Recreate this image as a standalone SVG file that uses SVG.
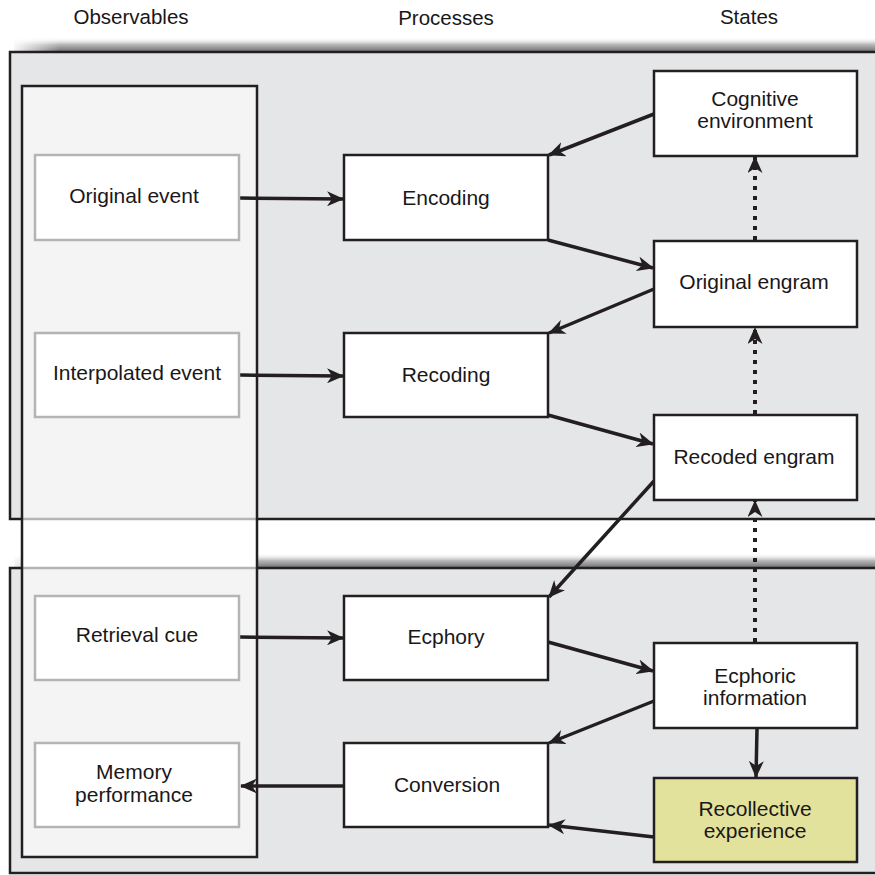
<svg xmlns="http://www.w3.org/2000/svg" width="875" height="875" viewBox="0 0 875 875">
<style>
text{font-family:"Liberation Sans",Arial,Helvetica,sans-serif;font-size:21px;fill:#1a1718;text-anchor:middle}
.hdr{font-size:20.5px}
.panel{fill:#e5e6e8;stroke:#231f20;stroke-width:2.5}
.obs{fill:#fff;stroke:#b4b4b6;stroke-width:2.5}
.box{fill:#fff;stroke:#231f20;stroke-width:2.5}
.rec{fill:#e2e29c;stroke:#231f20;stroke-width:2.5}
.ar{fill:none;stroke:#231f20;stroke-width:3.5;marker-end:url(#ah)}
.dot{fill:none;stroke:#231f20;stroke-width:4;stroke-dasharray:4 6;marker-end:url(#ah)}
</style>
<defs>
<marker id="ah" viewBox="0 0 17 15" refX="16" refY="7.5" markerWidth="17" markerHeight="15" markerUnits="userSpaceOnUse" orient="auto">
<path d="M0,0 L17,7.5 L0,15 L5,7.5 z" fill="#231f20"/>
</marker>
<linearGradient id="sh" x1="0" y1="0" x2="0" y2="1">
<stop offset="0" stop-color="#ffffff" stop-opacity="0"/>
<stop offset="0.5" stop-color="#b8b8ba"/>
<stop offset="1" stop-color="#6e6e70"/>
</linearGradient>
<linearGradient id="shx" x1="0" y1="0" x2="1" y2="0">
<stop offset="0" stop-color="#fff"/>
<stop offset="1" stop-color="#fff" stop-opacity="0"/>
</linearGradient>
</defs>
<rect width="875" height="875" fill="#fff"/>
<g id="headers">
<text class="hdr" x="131" y="24">Observables</text>
<text class="hdr" x="446" y="25">Processes</text>
<text class="hdr" x="749" y="24">States</text>
</g>
<g id="panels">
<rect x="14" y="37" width="866" height="15" fill="url(#sh)"/>
<rect x="10" y="37" width="50" height="15" fill="url(#shx)"/>
<rect class="panel" x="10" y="52" width="880" height="467"/>
<rect x="14" y="553" width="866" height="15" fill="url(#sh)"/>
<rect x="10" y="553" width="50" height="15" fill="url(#shx)"/>
<rect class="panel" x="10" y="568" width="880" height="305"/>
</g>
<g id="observables-column">
<rect x="22" y="86" width="235" height="771" fill="#f4f4f4"/>
<rect x="22" y="520" width="235" height="47" fill="#fff"/>
<line x1="22" y1="519" x2="257" y2="519" stroke="#b4b4b6" stroke-width="2.5"/>
<line x1="22" y1="568" x2="257" y2="568" stroke="#b4b4b6" stroke-width="2.5"/>
<rect x="22" y="86" width="235" height="771" fill="none" stroke="#231f20" stroke-width="2.5"/>
</g>
<g id="connectors">
<line class="ar" x1="240" y1="198" x2="343" y2="199"/>
<line class="ar" x1="240" y1="375" x2="343" y2="376"/>
<line class="ar" x1="240" y1="637" x2="343" y2="638"/>
<line class="ar" x1="344" y1="786" x2="241" y2="786"/>
<line class="ar" x1="654" y1="114" x2="549" y2="155"/>
<line class="ar" x1="548" y1="240" x2="653" y2="268"/>
<line class="ar" x1="654" y1="289" x2="549" y2="333"/>
<line class="ar" x1="548" y1="415" x2="653" y2="444"/>
<line class="ar" x1="654" y1="481" x2="549" y2="597"/>
<line class="ar" x1="548" y1="642" x2="653" y2="671"/>
<line class="ar" x1="654" y1="701" x2="549" y2="743"/>
<line class="ar" x1="654" y1="837" x2="549" y2="825"/>
<line class="ar" x1="757" y1="729" x2="756" y2="777"/>
<line class="dot" x1="755" y1="240" x2="755" y2="157"/>
<line class="dot" x1="755" y1="414" x2="755" y2="328"/>
<line class="dot" x1="755" y1="642" x2="755" y2="501"/>
</g>
<g id="n-original-event"><rect class="obs" x="35" y="155" width="204" height="85"/><text x="134" y="203">Original event</text></g>
<g id="n-interpolated-event"><rect class="obs" x="35" y="333" width="204" height="84"/><text x="137" y="380">Interpolated event</text></g>
<g id="n-retrieval-cue"><rect class="obs" x="35" y="596" width="204" height="84"/><text x="137" y="642">Retrieval cue</text></g>
<g id="n-memory-performance"><rect class="obs" x="35" y="743" width="204" height="84"/><text x="134" y="779">Memory</text><text x="134" y="802">performance</text></g>
<g id="n-encoding"><rect class="box" x="344" y="155" width="204" height="85"/><text x="446" y="205">Encoding</text></g>
<g id="n-recoding"><rect class="box" x="344" y="333" width="204" height="84"/><text x="446" y="382">Recoding</text></g>
<g id="n-ecphory"><rect class="box" x="344" y="596" width="204" height="84"/><text x="446" y="644">Ecphory</text></g>
<g id="n-conversion"><rect class="box" x="344" y="743" width="204" height="84"/><text x="447" y="792">Conversion</text></g>
<g id="n-cognitive-environment"><rect class="box" x="654" y="71" width="203" height="85"/><text x="755" y="106">Cognitive</text><text x="755" y="128">environment</text></g>
<g id="n-original-engram"><rect class="box" x="654" y="241" width="203" height="86"/><text x="754" y="289">Original engram</text></g>
<g id="n-recoded-engram"><rect class="box" x="654" y="415" width="203" height="85"/><text x="754" y="464">Recoded engram</text></g>
<g id="n-ecphoric-information"><rect class="box" x="654" y="643" width="203" height="85"/><text x="755" y="683">Ecphoric</text><text x="755" y="705">information</text></g>
<g id="n-recollective-experience"><rect class="rec" x="654" y="778" width="203" height="84"/><text x="755" y="816">Recollective</text><text x="755" y="838">experience</text></g>
</svg>
